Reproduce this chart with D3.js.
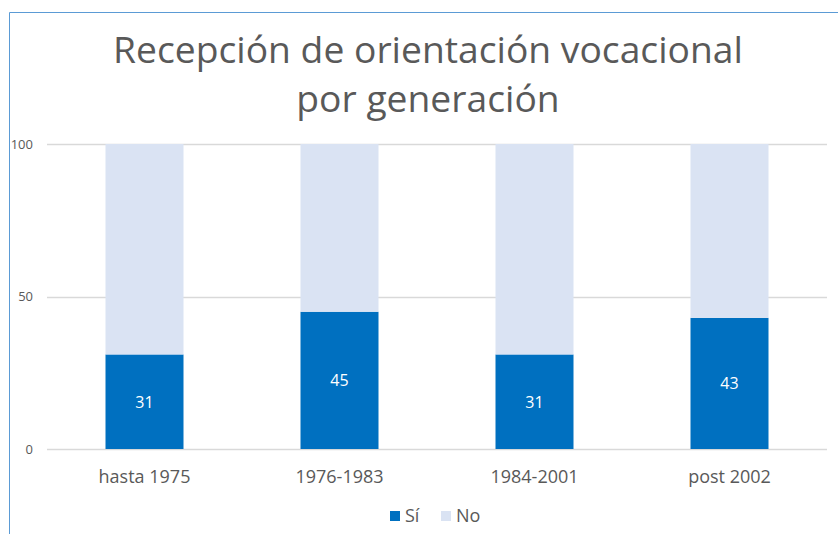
<!DOCTYPE html>
<html>
<head>
<meta charset="utf-8">
<script src="https://cdnjs.cloudflare.com/ajax/libs/d3/7.8.5/d3.min.js"></script>
<style>
  body { margin: 0; background: #fff; }
  text { font-family: "Open Sans", "Noto Sans", sans-serif; fill: #595959; }
</style>
</head>
<body>
<div id="chart"></div>
<script>
var titleLines = ["Recepción de orientación vocacional", "por generación"]
var categories = ["hasta 1975", "1976-1983", "1984-2001", "post 2002"]
var siValues = [31, 45, 31, 43]
var noValues = [69, 55, 69, 57]
var yTicks = [0, 50, 100]
var seriesNames = ["Sí", "No"]
var seriesColors = ["#0070C0", "#DAE3F3"]

var width = 838, height = 534
var margin = { top: 144, right: 11, bottom: 85, left: 47 }

var svg = d3.select("#chart")
  .append("svg")
  .attr("width", width)
  .attr("height", height)

// chart frame (only left and top edges visible in the crop)
svg.append("path")
  .attr("d", "M 9.5," + height + " L 9.5,12.5 L " + width + ",12.5")
  .attr("fill", "none")
  .attr("stroke", "#5B9BD5")
  .attr("stroke-width", 1)

var title = svg.append("g")
var titleText = title.selectAll("text")
  .data(titleLines)
  .enter()
  .append("text")
  .attr("x", 428)
  .attr("y", function (d, i) { return 63 + i * 49 })
  .attr("text-anchor", "middle")
  .style("font-size", "36px")
  .style("font-weight", 400)
  .text(function (d) { return d })

// scale the title so the first line is about as wide as in the original
var firstLen = titleText.node().getComputedTextLength()
var titleSize = 36 * 630 / firstLen
titleText.style("font-size", titleSize + "px")

var x = d3.scaleBand()
  .domain(categories)
  .range([margin.left, width - margin.right])
  .paddingInner(0.6)
  .paddingOuter(0.3)

var y = d3.scaleLinear()
  .domain([0, 100])
  .range([height - margin.bottom, margin.top])

// gridlines
svg.append("g")
  .selectAll("line")
  .data(yTicks)
  .enter()
  .append("line")
  .attr("x1", margin.left)
  .attr("x2", width - margin.right)
  .attr("y1", function (d) { return Math.round(y(d)) + 0.5 })
  .attr("y2", function (d) { return Math.round(y(d)) + 0.5 })
  .attr("stroke", "#D9D9D9")
  .attr("stroke-width", 1.5)

var yAxis = svg.append("g")
  .attr("transform", "translate(" + (margin.left - 14) + ",0)")
  .call(d3.axisLeft(y).tickValues(yTicks).tickSize(0).tickPadding(0))
yAxis.select(".domain").remove()
yAxis.selectAll("text")
  .style("font-size", "13px")
  .style("fill", "#595959")

var rows = categories.map(function (c, i) {
  return { cat: c, "Sí": siValues[i], "No": noValues[i] }
})
var stack = d3.stack().keys(seriesNames)(rows)

var layers = svg.append("g")
  .selectAll("g")
  .data(stack)
  .enter()
  .append("g")
  .attr("fill", function (d, i) { return seriesColors[i] })

layers.selectAll("rect")
  .data(function (d) { return d })
  .enter()
  .append("rect")
  .attr("x", function (d) { return x(d.data.cat) })
  .attr("width", x.bandwidth())
  .attr("y", function (d) { return y(d[1]) })
  .attr("height", function (d) { return y(d[0]) - y(d[1]) })

// value labels on the Sí segment
svg.append("g")
  .selectAll("text")
  .data(stack[0])
  .enter()
  .append("text")
  .attr("x", function (d) { return x(d.data.cat) + x.bandwidth() / 2 })
  .attr("y", function (d) { return (y(d[0]) + y(d[1])) / 2 + 6 })
  .attr("text-anchor", "middle")
  .style("font-size", "16px")
  .style("fill", "#fff")
  .text(function (d) { return d.data["Sí"] })

var xAxis = svg.append("g")
  .attr("transform", "translate(0," + (height - margin.bottom) + ")")
  .call(d3.axisBottom(x).tickSize(0).tickPadding(21))
xAxis.select(".domain").remove()
xAxis.selectAll("text")
  .style("font-size", "18px")
  .style("fill", "#595959")

// legend
var legend = svg.append("g")
  .attr("transform", "translate(390,510)")
var legendPos = [0, 51]
var item = legend.selectAll("g")
  .data(seriesNames)
  .enter()
  .append("g")
  .attr("transform", function (d, i) { return "translate(" + legendPos[i] + ",0)" })
item.append("rect")
  .attr("width", 10)
  .attr("height", 10)
  .attr("y", 1)
  .attr("fill", function (d, i) { return seriesColors[i] })
item.append("text")
  .attr("x", 15)
  .attr("y", 12)
  .style("font-size", "18px")
  .text(function (d) { return d })
</script>
</body>
</html>
